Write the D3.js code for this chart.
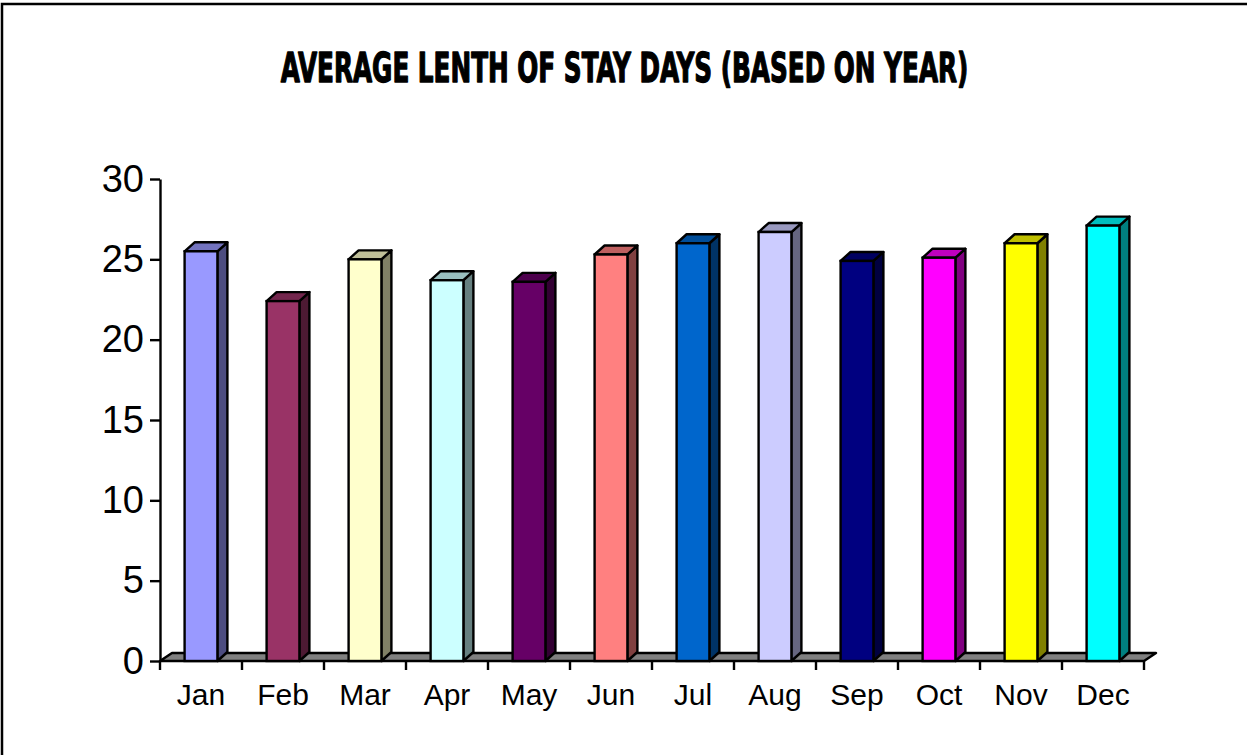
<!DOCTYPE html>
<html>
<head>
<meta charset="utf-8">
<script src="https://cdn.jsdelivr.net/npm/d3@7"></script>
<style>
  html, body { margin: 0; padding: 0; background: #fff; }
  svg { display: block; }
</style>
</head>
<body>
<svg id="chart" width="1247" height="755"></svg>
<script>
const months = ["Jan","Feb","Mar","Apr","May","Jun","Jul","Aug","Sep","Oct","Nov","Dec"];
const avgStay = [25.5, 22.4, 25.0, 23.7, 23.6, 25.3, 26.0, 26.7, 24.9, 25.1, 26.0, 27.1];
const yTicks = [0, 5, 10, 15, 20, 25, 30];
const barColors = ["#9999FF","#993366","#FFFFCC","#CCFFFF","#660066","#FF8080",
                   "#0066CC","#CCCCFF","#000080","#FF00FF","#FFFF00","#00FFFF"];
const titleText = "AVERAGE LENTH OF STAY DAYS (BASED ON YEAR)";

const svg = d3.select("#chart");

// outer frame (clipped on right and bottom)
svg.append("rect").attr("x", 2).attr("y", 4).attr("width", 1260).attr("height", 770)
  .attr("fill", "none").attr("stroke", "#000").attr("stroke-width", 2.5);

// title (condensed heavy, scaled to the reference width)
const titleG = svg.append("g");
const title = titleG.append("text")
  .attr("x", 0).attr("y", 0)
  .attr("text-anchor", "middle")
  .style("font-family", "Impact, 'Liberation Sans Narrow', 'DejaVu Sans Condensed', sans-serif")
  .style("font-weight", "bold").style("font-size", "41px")
  .attr("stroke", "#000").attr("stroke-width", 1.3).attr("stroke-linejoin", "round")
  .text(titleText);
const tw = title.node().getComputedTextLength();
const sx = 688 / tw;
titleG.attr("transform", `translate(624.5,82) scale(${sx},1)`);

const x = d3.scaleBand().domain(months).range([160, 1144]).padding(0);
const y = d3.scaleLinear().domain([0, 30]).range([661, 179]);

const floorDX = 12, floorDY = -8;
const barDX = 10, barDY = -9;
const sw = 2.4;

// floor
const fx0 = x.range()[0], fx1 = x.range()[1], fy = y(0);
svg.append("polygon")
  .attr("points", [[fx0, fy], [fx1, fy], [fx1 + floorDX, fy + floorDY], [fx0 + floorDX, fy + floorDY]].map(p => p.join(",")).join(" "))
  .attr("fill", "#808080").attr("stroke", "#000").attr("stroke-width", sw).attr("stroke-linejoin", "round");

// x tick marks at band boundaries
const edges = months.map(m => x(m)).concat([fx1]);
svg.append("g").selectAll("line").data(edges).join("line")
  .attr("x1", d => d).attr("x2", d => d)
  .attr("y1", fy).attr("y2", fy + 9)
  .attr("stroke", "#000").attr("stroke-width", sw);

// bars
const shade = (c, k) => { const r = d3.rgb(c); return d3.rgb(r.r * k, r.g * k, r.b * k).formatHex(); };
const bw = x.bandwidth() * 0.4;
const bars = svg.append("g").selectAll("g").data(months).join("g");
bars.each(function (m, i) {
  const g = d3.select(this);
  const x0 = x(m) + (x.bandwidth() - bw) / 2, x1 = x0 + bw;
  const yt = y(avgStay[i]), yb = y(0);
  const col = barColors[i];
  g.append("polygon")
    .attr("points", [[x1, yb], [x1, yt], [x1 + barDX, yt + barDY], [x1 + barDX, yb + barDY]].map(p => p.join(",")).join(" "))
    .attr("fill", shade(col, 0.5)).attr("stroke", "#000").attr("stroke-width", sw).attr("stroke-linejoin", "round");
  g.append("polygon")
    .attr("points", [[x0, yt], [x1, yt], [x1 + barDX, yt + barDY], [x0 + barDX, yt + barDY]].map(p => p.join(",")).join(" "))
    .attr("fill", shade(col, 0.75)).attr("stroke", "#000").attr("stroke-width", sw).attr("stroke-linejoin", "round");
  g.append("rect")
    .attr("x", x0).attr("y", yt).attr("width", bw).attr("height", yb - yt)
    .attr("fill", col).attr("stroke", "#000").attr("stroke-width", sw);
});

// y axis
const yAxis = svg.append("g").attr("transform", "translate(160,0)")
  .call(d3.axisLeft(y).tickValues(yTicks).tickSize(10).tickPadding(6).tickSizeOuter(0));
yAxis.select(".domain").attr("stroke", "#000").attr("stroke-width", sw);
yAxis.selectAll(".tick line").attr("stroke", "#000").attr("stroke-width", sw);
yAxis.selectAll(".tick text")
  .style("font-family", "Arial, 'Liberation Sans', sans-serif").style("font-size", "38px").attr("fill", "#000");

// x labels
const xAxis = svg.append("g").attr("transform", `translate(0,${fy})`)
  .call(d3.axisBottom(x).tickSize(0).tickPadding(0));
xAxis.select(".domain").remove();
xAxis.selectAll(".tick text")
  .attr("y", 44).attr("dy", 0)
  .style("font-family", "Arial, 'Liberation Sans', sans-serif").style("font-size", "30px").attr("fill", "#000");
</script>
</body>
</html>
